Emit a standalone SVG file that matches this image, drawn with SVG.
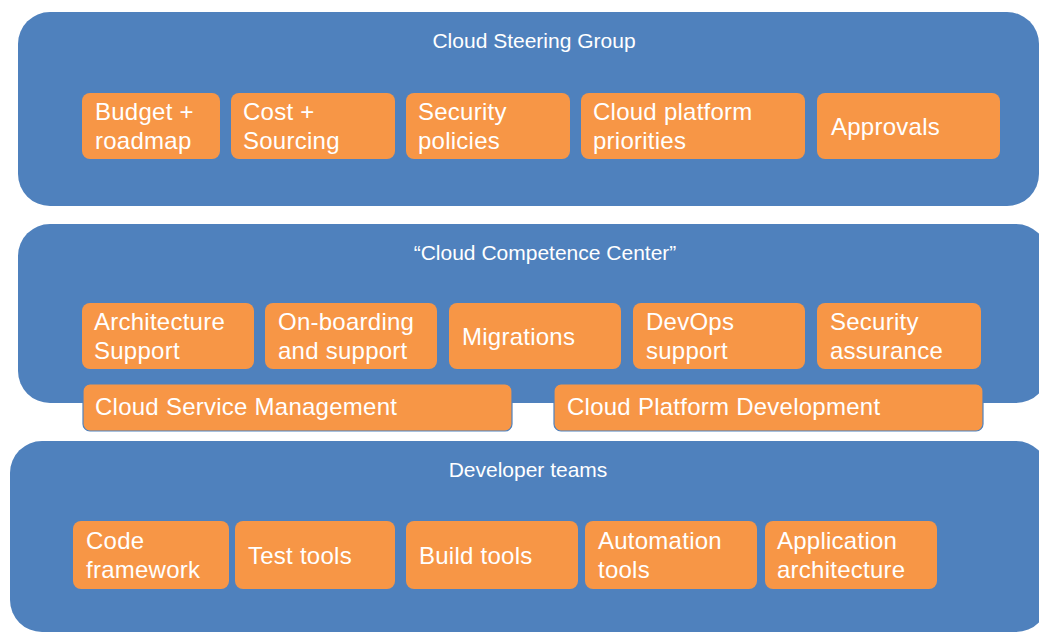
<svg xmlns="http://www.w3.org/2000/svg" width="1039" height="633" viewBox="0 0 1039 633">
  <style>
    .panel { fill: #4F81BD; }
    .box { fill: #F79646; }
    .bar { fill: #F79646; stroke: #4F81BD; stroke-width: 1.2; }
    .title { font-family: "Liberation Sans", Arial, sans-serif; font-size: 21px; fill: #ffffff; text-anchor: middle; }
    .lbl { font-family: "Liberation Sans", Arial, sans-serif; font-size: 24px; letter-spacing: 0.25px; fill: #ffffff; }
  </style>
  <rect width="1039" height="633" fill="#ffffff"/>

  <!-- Steering layer -->
  <g id="steering">
    <rect class="panel" x="18" y="12" width="1021" height="194" rx="32"/>
    <text class="title" x="534" y="48">Cloud Steering Group</text>
    <g id="budget"><rect class="box" x="82" y="93" width="138" height="66" rx="8"/>
      <text class="lbl" x="95" y="120">Budget +</text><text class="lbl" x="95" y="149">roadmap</text></g>
    <g id="cost"><rect class="box" x="231" y="93" width="164" height="66" rx="8"/>
      <text class="lbl" x="243" y="120">Cost +</text><text class="lbl" x="243" y="149">Sourcing</text></g>
    <g id="security-policies"><rect class="box" x="406" y="93" width="164" height="66" rx="8"/>
      <text class="lbl" x="418" y="120">Security</text><text class="lbl" x="418" y="149">policies</text></g>
    <g id="platform-priorities"><rect class="box" x="581" y="93" width="224" height="66" rx="8"/>
      <text class="lbl" x="593" y="120">Cloud platform</text><text class="lbl" x="593" y="149">priorities</text></g>
    <g id="approvals"><rect class="box" x="817" y="93" width="183" height="66" rx="8"/>
      <text class="lbl" x="831" y="135">Approvals</text></g>
  </g>

  <!-- Competence center layer -->
  <g id="competence">
    <rect class="panel" x="18" y="224" width="1030" height="179" rx="32"/>
    <text class="title" x="545" y="260">“Cloud Competence Center”</text>
    <g id="architecture-support"><rect class="box" x="82" y="303" width="172" height="66" rx="8"/>
      <text class="lbl" x="94" y="330">Architecture</text><text class="lbl" x="94" y="359">Support</text></g>
    <g id="onboarding"><rect class="box" x="265" y="303" width="172" height="66" rx="8"/>
      <text class="lbl" x="278" y="330">On-boarding</text><text class="lbl" x="278" y="359">and support</text></g>
    <g id="migrations"><rect class="box" x="449" y="303" width="172" height="66" rx="8"/>
      <text class="lbl" x="462" y="345">Migrations</text></g>
    <g id="devops"><rect class="box" x="633" y="303" width="172" height="66" rx="8"/>
      <text class="lbl" x="646" y="330">DevOps</text><text class="lbl" x="646" y="359">support</text></g>
    <g id="security-assurance"><rect class="box" x="817" y="303" width="164" height="66" rx="8"/>
      <text class="lbl" x="830" y="330">Security</text><text class="lbl" x="830" y="359">assurance</text></g>
    <g id="service-management"><rect class="bar" x="83" y="384" width="429" height="47" rx="7"/>
      <text class="lbl" x="95" y="415">Cloud Service Management</text></g>
    <g id="platform-development"><rect class="bar" x="554" y="384" width="429" height="47" rx="7"/>
      <text class="lbl" x="567" y="415">Cloud Platform Development</text></g>
  </g>

  <!-- Developer layer -->
  <g id="developers">
    <rect class="panel" x="10" y="441" width="1038" height="191" rx="32"/>
    <text class="title" x="528" y="477">Developer teams</text>
    <g id="code-framework"><rect class="box" x="73" y="521" width="156" height="68" rx="8"/>
      <text class="lbl" x="86" y="549">Code</text><text class="lbl" x="86" y="578">framework</text></g>
    <g id="test-tools"><rect class="box" x="235" y="521" width="160" height="68" rx="8"/>
      <text class="lbl" x="248" y="564">Test tools</text></g>
    <g id="build-tools"><rect class="box" x="406" y="521" width="172" height="68" rx="8"/>
      <text class="lbl" x="419" y="564">Build tools</text></g>
    <g id="automation-tools"><rect class="box" x="585" y="521" width="172" height="68" rx="8"/>
      <text class="lbl" x="598" y="549">Automation</text><text class="lbl" x="598" y="578">tools</text></g>
    <g id="app-architecture"><rect class="box" x="765" y="521" width="172" height="68" rx="8"/>
      <text class="lbl" x="777" y="549">Application</text><text class="lbl" x="777" y="578">architecture</text></g>
  </g>
</svg>
